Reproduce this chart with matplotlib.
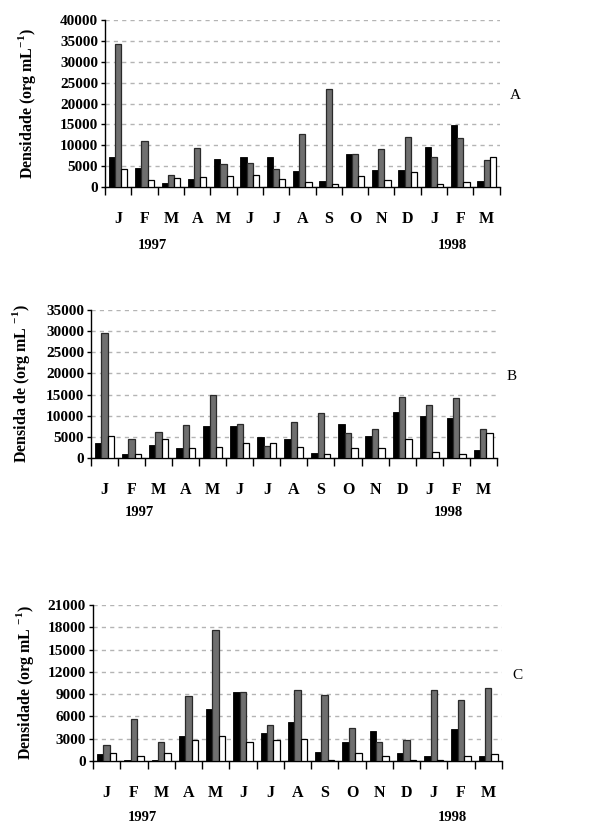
import numpy as np
import matplotlib
matplotlib.use("Agg")
import matplotlib.pyplot as plt
from matplotlib.ticker import FixedLocator, NullFormatter

months = ["J", "F", "M", "A", "M", "J", "J", "A", "S", "O", "N", "D", "J", "F", "M"]

# panel A
a_black = [7300, 4600, 1000, 2000, 6700, 7300, 7300, 3900, 1400, 8000, 4200, 4200, 9600, 14800, 1400]
a_gray = [34200, 11100, 2900, 9300, 5400, 5700, 4400, 12700, 23600, 8000, 9200, 12000, 7200, 11700, 6400]
a_white = [4400, 1600, 2200, 2300, 2600, 2900, 1900, 1300, 700, 2600, 1600, 3500, 700, 1300, 7200]

# panel B
b_black = [3600, 900, 3000, 2400, 7500, 7500, 5000, 4400, 1200, 8000, 5300, 10800, 9900, 9500, 2000]
b_gray = [29500, 4400, 6200, 7800, 15000, 8000, 2900, 8600, 10700, 5900, 6800, 14400, 12500, 14100, 6800]
b_white = [5300, 900, 4400, 2300, 2700, 3500, 3500, 2700, 900, 2300, 2300, 4400, 1400, 900, 5900]

# panel C
c_black = [900, 150, 150, 3400, 7000, 9300, 3700, 5300, 1200, 2500, 4100, 1100, 700, 4300, 700]
c_gray = [2100, 5700, 2500, 8800, 17600, 9300, 4900, 9600, 8900, 4400, 2500, 2800, 9600, 8200, 9800]
c_white = [1100, 700, 1100, 2800, 3300, 2600, 2800, 3000, 150, 1100, 700, 150, 150, 700, 900]

panels = [
    ("A", a_black, a_gray, a_white, 40000, 5000, [0.1716, 0.773, 0.645, 0.2027], 27, 42, "Densidade (org mL$^{\\mathbf{-1}}$)"),
    ("B", b_black, b_gray, b_white, 35000, 5000, [0.1487, 0.4442, 0.663, 0.1796], 21, 39, "Densida de (org mL $^{\\mathbf{-1}}$)"),
    ("C", c_black, c_gray, c_white, 21000, 3000, [0.152, 0.0765, 0.668, 0.1893], 25, 41, "Densidade (org mL $^{\\mathbf{-1}}$)"),
]

plt.rcParams['font.family'] = ['Liberation Serif', 'DejaVu Serif']
plt.rcParams['mathtext.fontset'] = 'custom'
plt.rcParams['mathtext.rm'] = 'Liberation Serif'
plt.rcParams['mathtext.bf'] = 'Liberation Serif:bold'

fig = plt.figure(figsize=(6.12, 8.24), dpi=100)

n = len(months)
x = np.arange(n)
w = 0.235

for letter, blk, gry, wht, ymax, step, rect, ylab_x, year_off, ylab in panels:
    ax = fig.add_axes(rect)
    ax.bar(x + 0.5 - w, blk, w, color="black", edgecolor="black", linewidth=0.6, zorder=3)
    ax.bar(x + 0.5, gry, w, color="#6f6f6f", edgecolor="#2a2a2a", linewidth=0.9, zorder=3)
    ax.bar(x + 0.5 + w, wht, w, color="white", edgecolor="black", linewidth=0.9, zorder=3)

    ax.set_xlim(0, n)
    ax.set_ylim(0, ymax)
    ax.set_yticks(np.arange(0, ymax + 1, step))
    ax.yaxis.grid(True, linestyle=(0, (3, 3)), color="#b4b4b4", linewidth=1.0, zorder=0)

    ax.xaxis.set_major_locator(FixedLocator(np.arange(0, n + 1)))
    ax.xaxis.set_major_formatter(NullFormatter())
    ax.xaxis.set_minor_locator(FixedLocator(x + 0.5))
    ax.set_xticklabels(months, minor=True)
    ax.tick_params(axis="x", which="major", length=6, width=1, direction="out")
    ax.tick_params(axis="x", which="minor", length=0, pad=17, labelsize=11.5)
    ax.tick_params(axis="y", length=3, width=1, labelsize=11, pad=2)
    for lbl in ax.get_xticklabels(minor=True) + ax.get_yticklabels():
        lbl.set_fontweight("bold")

    for s in ["top", "right"]:
        ax.spines[s].set_visible(False)
    ax.spines["left"].set_linewidth(1)
    ax.spines["bottom"].set_linewidth(1)

    ax.set_ylabel(ylab, fontsize=11.5, fontweight="bold", va="center")
    ax.yaxis.set_label_coords(-(rect[0] * 612 - ylab_x) / (rect[2] * 612), 0.5)

    for year, xpos in [("1997", 1.8), ("1998", 13.2)]:
        ax.annotate(year, xy=(xpos, 0), xycoords=ax.get_xaxis_transform(),
                    xytext=(0, -year_off), textcoords="offset points",
                    ha="center", va="center", fontsize=10.5, fontweight="bold")
    ax.text(1.025, 0.55, letter, transform=ax.transAxes, ha="left", va="center", fontsize=11)

fig.savefig("out.png", dpi=100)
